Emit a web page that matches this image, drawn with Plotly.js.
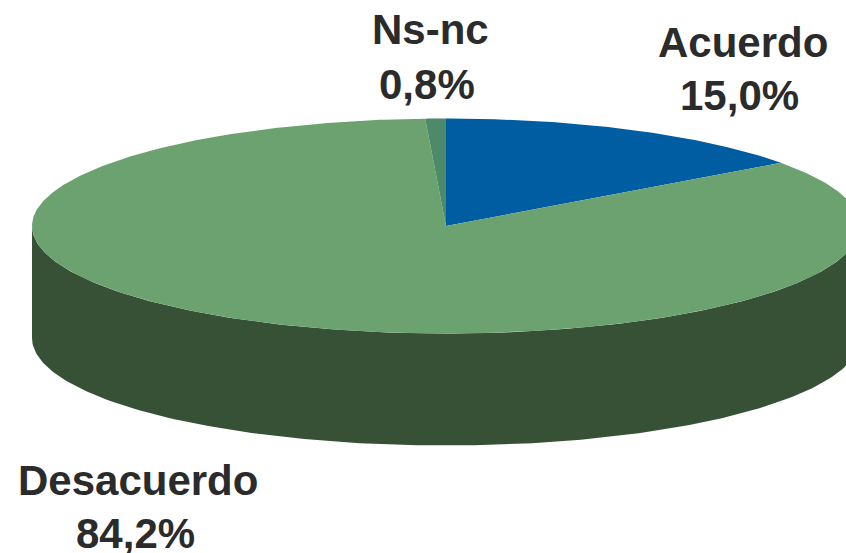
<!DOCTYPE html>
<html><head><meta charset="utf-8">
<script src="https://cdn.plot.ly/plotly-3.0.1.min.js"></script>
<style>html,body{margin:0;padding:0;background:#fff}</style></head>
<body><div id="chart" style="width:846px;height:553px"></div>
<script>
const categories = ["Acuerdo", "Desacuerdo", "Ns-nc"];
const shares = [15.0, 84.2, 0.8];
const labelText = ["15,0%", "84,2%", "0,8%"];
const topColors = ["#005da2", "#6ba26f", "#4c8a6a"];
const sideColor = "#375137";

const cx = 446, cy = 226, rx = 414, ry = 107.5, depth = 112;
const px = a => cx + rx * Math.sin(a);
const py = a => cy - ry * Math.cos(a);
const total = shares.reduce((s, v) => s + v, 0);
const traces = [];

// side wall: visible front half of the ellipse, extruded downward
{
  const xs = [], ys = [];
  for (let d = 90; d <= 270; d += 1) { const a = d * Math.PI / 180; xs.push(px(a)); ys.push(py(a)); }
  for (let d = 270; d >= 90; d -= 1) { const a = d * Math.PI / 180; xs.push(px(a)); ys.push(py(a) + depth); }
  traces.push({x: xs, y: ys, mode: "lines", fill: "toself", fillcolor: sideColor,
    line: {color: sideColor, width: 0}, hoverinfo: "skip", showlegend: false});
}
// top faces
let start = 0;
shares.forEach((v, i) => {
  const span = v / total * 2 * Math.PI;
  const xs = [cx], ys = [cy];
  const n = Math.max(4, Math.ceil(span / 0.01));
  for (let k = 0; k <= n; k++) { const a = start + span * k / n; xs.push(px(a)); ys.push(py(a)); }
  xs.push(cx); ys.push(cy);
  traces.push({x: xs, y: ys, name: categories[i], mode: "lines", fill: "toself", fillcolor: topColors[i],
    line: {color: topColors[i], width: 0}, hoverinfo: "name", showlegend: false});
  start += span;
});

const labelPos = [[743, 42, 739.5, 95], [138, 480, 135, 533], [430, 29, 426.5, 84]];
const font = {family: "Liberation Sans, Arial, sans-serif", size: 42, color: "#2b2b2b"};
const annotations = [];
categories.forEach((c, i) => {
  annotations.push({x: labelPos[i][0], y: labelPos[i][1], text: "<b>" + c + "</b>", showarrow: false, font, xanchor: "center", yanchor: "middle"});
  annotations.push({x: labelPos[i][2], y: labelPos[i][3], text: "<b>" + labelText[i] + "</b>", showarrow: false, font, xanchor: "center", yanchor: "middle"});
});

Plotly.newPlot("chart", traces, {
  width: 846, height: 553, margin: {l: 0, r: 0, t: 0, b: 0},
  paper_bgcolor: "#fff", plot_bgcolor: "#fff", showlegend: false,
  xaxis: {range: [0, 846], visible: false, fixedrange: true},
  yaxis: {range: [553, 0], visible: false, fixedrange: true},
  annotations
}, {displayModeBar: false, staticPlot: true});
</script></body></html>
